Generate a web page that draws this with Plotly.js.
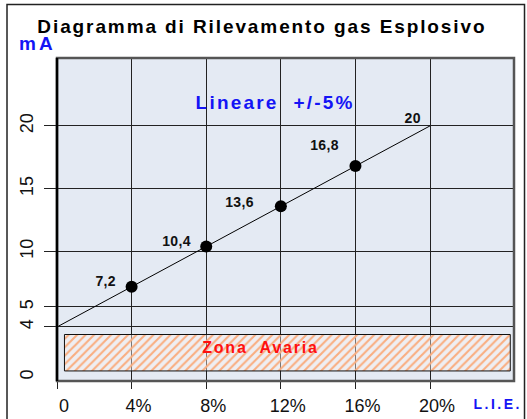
<!DOCTYPE html>
<html>
<head>
<meta charset="utf-8">
<script src="https://cdn.plot.ly/plotly-3.0.1.min.js"></script>
<style>html,body{margin:0;padding:0;background:#fff;}#chart{width:527px;height:419px;}</style>
</head>
<body>
<div id="chart"></div>
<script>
// ---- data ----
const liePercent = [0, 4, 8, 12, 16, 20];          // % L.I.E.
const mAValues   = [4, 7.2, 10.4, 13.6, 16.8, 20];  // mA output
const markerIdx  = [1, 2, 3, 4];                    // measured points with dots
const labelIdx   = [1, 2, 3, 4, 5];                 // points with value labels
const xTickVals  = [0, 4, 8, 12, 16, 20];
const xTickText  = ['0', '4%', '8%', '12%', '16%', '20%'];
// the reference draws its "5" grid line a little above the true 5 mA level
const yTickVals  = [4, 5.6, 10, 15, 20];
const yTickText  = ['4', '5', '10', '15', '20'];
const zoneLie    = [0.4, 24.3];   // fault zone extent (% L.I.E.)
const zoneMA     = [0.5, 3.4];    // fault zone extent (mA)

// ---- styles / positions (not data) ----
const labelShift = [[-26, 6], [-30, 6], [-41, 4], [-31, 21], [-17, 8]];
const FONT = 'Liberation Sans, Arial, sans-serif';
const BLUE = '#1414f5';

const fmt = v => String(v).replace('.', ',');

const traces = [
  {
    x: [zoneLie[0], zoneLie[1], zoneLie[1], zoneLie[0], zoneLie[0]],
    y: [zoneMA[0], zoneMA[0], zoneMA[1], zoneMA[1], zoneMA[0]],
    yaxis: 'y2',
    mode: 'lines', fill: 'toself',
    line: {color: '#111', width: 1},
    fillcolor: 'rgba(255,240,228,0.35)',
    fillpattern: {shape: '/', fgcolor: '#f9ad80', bgcolor: 'rgba(255,246,240,0.4)', size: 6, solidity: 0.35},
    hoverinfo: 'skip', showlegend: false
  },
  {
    x: liePercent, y: mAValues, mode: 'lines',
    line: {color: '#000', width: 1}, showlegend: false, hoverinfo: 'skip'
  },
  {
    x: markerIdx.map(i => liePercent[i]), y: markerIdx.map(i => mAValues[i]),
    mode: 'markers', marker: {color: '#000', size: 12}, showlegend: false
  }
];

const annotations = labelIdx.map((i, k) => ({
  x: liePercent[i], y: mAValues[i], xref: 'x', yref: 'y',
  text: fmt(mAValues[i]), showarrow: false,
  xshift: labelShift[k][0], yshift: labelShift[k][1],
  font: {family: FONT, size: 14, color: '#111', weight: 'bold'}
}));

annotations.push(
  {xref: 'paper', yref: 'paper', x: -0.081, y: 1.046, xanchor: 'left', yanchor: 'middle',
   text: 'mA', showarrow: false, font: {family: FONT, size: 19, color: BLUE, weight: 'bold'}},
  {xref: 'paper', yref: 'paper', x: 0.924, y: -0.071, xanchor: 'left', yanchor: 'middle',
   text: 'L.I.E.', showarrow: false, font: {family: FONT, size: 14, color: BLUE, weight: 'bold'}},
  {xref: 'paper', yref: 'paper', x: 0.476, y: 0.861, xanchor: 'center', yanchor: 'middle',
   text: 'Lineare  +/-5%', showarrow: false, font: {family: FONT, size: 19, color: BLUE, weight: 'bold'}},
  {xref: 'paper', yref: 'paper', x: 0.446, y: 0.105, xanchor: 'center', yanchor: 'middle',
   text: 'Zona  Avaria', showarrow: false, font: {family: FONT, size: 16, color: '#ff1010', weight: 'bold'}}
);

const yRange = [-0.3, 25.4];

const layout = {
  width: 527, height: 419,
  margin: {l: 57, r: 13, t: 58, b: 38},
  paper_bgcolor: '#ffffff',
  plot_bgcolor: '#e4eaf3',
  showlegend: false,
  title: {
    text: 'Diagramma di Rilevamento gas Esplosivo',
    font: {family: FONT, size: 19, color: '#000', weight: 'bold'},
    x: 0.497, xref: 'container', xanchor: 'center',
    y: 0.938, yref: 'container', yanchor: 'middle'
  },
  xaxis: {
    range: [0, 24.5], tickmode: 'array', tickvals: xTickVals, ticktext: xTickText,
    ticks: 'outside', ticklen: 7, tickcolor: '#222', tickwidth: 1,
    showgrid: true, gridcolor: '#222', gridwidth: 1, zeroline: false, showline: false,
    tickfont: {family: FONT, size: 18, color: '#111'},
    ticklabelshift: 7, ticklabelstandoff: 1, fixedrange: true
  },
  yaxis: {
    range: yRange, tickmode: 'array', tickvals: yTickVals, ticktext: yTickText,
    tickangle: -90, ticks: 'outside', ticklen: 12, tickcolor: '#222', tickwidth: 1,
    showgrid: true, gridcolor: '#222', gridwidth: 1, zeroline: false, showline: false,
    tickfont: {family: FONT, size: 18, color: '#111'},
    ticklabelstandoff: 4, fixedrange: true
  },
  yaxis2: {
    range: yRange, overlaying: 'y', side: 'left', tickmode: 'array', tickvals: [0], ticktext: ['0'],
    tickangle: -90, ticks: 'outside', ticklen: 12, tickcolor: 'rgba(0,0,0,0)',
    showgrid: false, zeroline: false, showline: false,
    tickfont: {family: FONT, size: 18, color: '#111'},
    ticklabelstandoff: 4, fixedrange: true
  },
  shapes: [
    {type: 'rect', xref: 'paper', yref: 'paper', x0: 0, x1: 1, y0: 0, y1: 1,
     line: {color: '#555', width: 2.5}, layer: 'above'},
    {type: 'line', xref: 'paper', yref: 'paper', x0: 0, x1: 0, y0: 0, y1: 1,
     line: {color: '#000', width: 2.5}, layer: 'above'},
    {type: 'rect', xref: 'paper', yref: 'paper', x0: -0.1094, x1: 1.023, y0: -0.2, y1: 1.166,
     line: {color: '#222', width: 1.5}, layer: 'above'}
  ],
  annotations: annotations
};

Plotly.newPlot('chart', traces, layout, {displayModeBar: false, staticPlot: true}).then(gd => {
  const t = gd.querySelector('.gtitle');
  if (t) t.style.letterSpacing = '1.9px';
  const spacing = {'mA': '3px', 'L.I.E.': '2.5px', 'Lineare  +/-5%': '2.2px', 'Zona  Avaria': '1.8px'};
  gd.querySelectorAll('.annotation-text').forEach(el => {
    const s = spacing[el.textContent];
    el.style.letterSpacing = s ? s : '0.4px';
  });
});
</script>
</body>
</html>
